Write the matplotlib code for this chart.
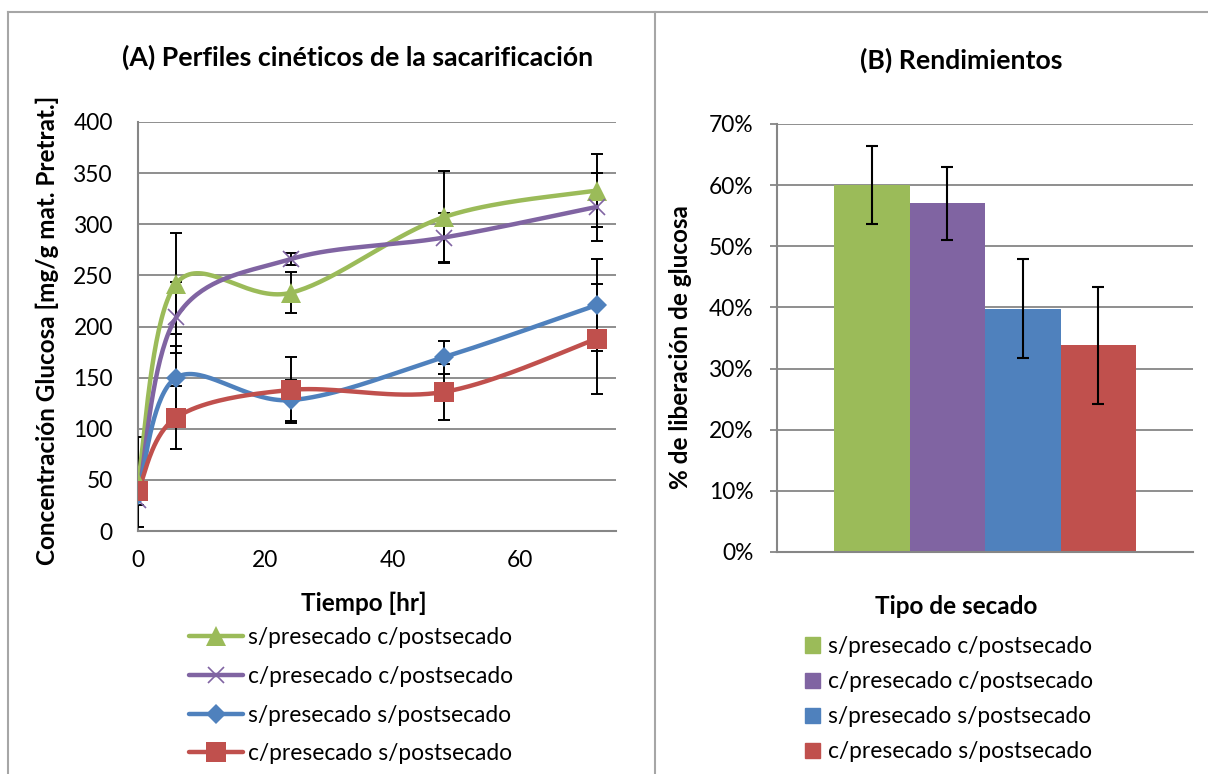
import numpy as np
import matplotlib
matplotlib.use("Agg")
import matplotlib.pyplot as plt
from matplotlib.lines import Line2D
from matplotlib.patches import Rectangle
from matplotlib.ticker import PercentFormatter, MultipleLocator

plt.rcParams['font.family'] = ['Lato', 'DejaVu Sans']

# ---------------- data ----------------
time_hr = [0, 6, 24, 48, 72]
labels = ["s/presecado c/postsecado", "c/presecado c/postsecado",
          "s/presecado s/postsecado", "c/presecado s/postsecado"]
green_vals = [48, 242, 233, 307, 333]
green_err = [44, 49, 20, 45, 36]
purple_vals = [30, 209, 266, 287, 317]
purple_err = [5, 35, 6, 24, 33]
blue_vals = [35, 150, 128, 170, 221]
blue_err = [5, 31, 20, 16, 45]
red_vals = [39, 111, 138, 136, 188]
red_err = [5, 31, 32, 27, 54]

yield_vals = [0.600, 0.570, 0.398, 0.338]
yield_err = [0.064, 0.059, 0.081, 0.096]

colors = ["#9BBB59", "#8064A2", "#4F81BD", "#C0504D"]
markers = ["^", "x", "D", "s"]
msizes = [14, 12, 10, 14]

W, H = 1208, 774
fig = plt.figure(figsize=(W / 100, H / 100), dpi=100)


def fx(px):
    return px / W


def fy(py):
    return 1 - py / H


def smooth(xs, ys, n=40):
    P = np.column_stack([xs, ys]).astype(float)
    out = []
    for i in range(len(P) - 1):
        p0 = P[i - 1] if i > 0 else P[i]
        p1 = P[i]
        p2 = P[i + 1]
        p3 = P[i + 2] if i + 2 < len(P) else P[i + 1]
        c1 = p1 + (p2 - p0) / 6
        c2 = p2 - (p3 - p1) / 6
        t = np.linspace(0, 1, n)[:, None]
        seg = (1 - t) ** 3 * p1 + 3 * (1 - t) ** 2 * t * c1 + 3 * (1 - t) * t ** 2 * c2 + t ** 3 * p2
        out.append(seg if i == 0 else seg[1:])
    return np.vstack(out)


grid_c = "#868686"
fs = 16.4
fsb = 17.5
fst = 19.2

# ---------------- frames ----------------
frame_c = "#A6A6A6"
fig.add_artist(Line2D([fx(8), 1], [fy(12), fy(12)], color=frame_c, lw=1.5, transform=fig.transFigure))
fig.add_artist(Line2D([fx(8), fx(8)], [fy(12), 0], color=frame_c, lw=1.5, transform=fig.transFigure))
fig.add_artist(Line2D([fx(655), fx(655)], [fy(12), 0], color=frame_c, lw=1.5, transform=fig.transFigure))

# ---------------- panel A ----------------
axA = fig.add_axes([fx(138), fy(531), (616 - 138) / W, (531 - 122) / H])
series = [(green_vals, green_err), (purple_vals, purple_err),
          (blue_vals, blue_err), (red_vals, red_err)]
handles = []
for k, (vals, err) in enumerate(series):
    axA.errorbar(time_hr, vals, yerr=err, fmt='none', ecolor='black', elinewidth=1.4,
                 capsize=4, capthick=1.4, zorder=3)
    curve = smooth(time_hr, vals)
    axA.plot(curve[:, 0], curve[:, 1], color=colors[k], lw=3.2, zorder=4 + k * 0.1,
             solid_capstyle='round')
    mew = 1.2 if markers[k] == 'x' else 0
    axA.plot(time_hr, vals, linestyle='none', marker=markers[k], ms=msizes[k],
             color=colors[k], mec=colors[k], mew=mew, zorder=5 + k * 0.1)
    handles.append(Line2D([], [], color=colors[k], lw=3.2, marker=markers[k], ms=msizes[k],
                          mec=colors[k], mew=mew, solid_capstyle='round'))

axA.set_xlim(0, 75)
axA.set_ylim(0, 400)
axA.xaxis.set_major_locator(MultipleLocator(20))
axA.yaxis.set_major_locator(MultipleLocator(50))
axA.grid(axis='y', color=grid_c, lw=1.3)
axA.set_axisbelow(True)
for s in ['top', 'right']:
    axA.spines[s].set_visible(False)
for s in ['left', 'bottom']:
    axA.spines[s].set_color(grid_c)
    axA.spines[s].set_linewidth(1.5)
axA.tick_params(axis='both', length=0, labelsize=fs)
axA.tick_params(axis='y', pad=18)
axA.tick_params(axis='x', pad=14)

fig.text(fx(358), fy(57), "(A) Perfiles cinéticos de la sacarificación", ha='center', va='center',
         fontsize=fst, fontweight='bold')
fig.text(fx(364), fy(603), "Tiempo [hr]", ha='center', va='center', fontsize=fsb, fontweight='bold')
fig.text(fx(47), fy(330), "Concentración Glucosa [mg/g mat. Pretrat.]", ha='center', va='center',
         rotation=90, fontsize=fsb, fontweight='bold')

axA.legend(handles, labels, loc='upper left', bbox_to_anchor=(fx(189), fy(627)),
           bbox_transform=fig.transFigure, frameon=False, fontsize=fs,
           handlelength=2.35, handletextpad=0.25, labelspacing=0.78, borderpad=0,
           borderaxespad=0)

# ---------------- panel B ----------------
axB = fig.add_axes([fx(777), fy(552), (1193 - 777) / W, (552 - 124) / H])
w = 302 / 4 / 416
xpos = [(i - 1.5) * w for i in range(4)]
bars = axB.bar(xpos, yield_vals, width=w, color=colors, zorder=2)
axB.errorbar(xpos, yield_vals, yerr=yield_err, fmt='none', ecolor='black', elinewidth=1.5,
             capsize=4.5, capthick=1.5, zorder=3)
axB.set_xlim(-0.5, 0.5)
axB.set_ylim(0, 0.7)
axB.yaxis.set_major_locator(MultipleLocator(0.1))
axB.yaxis.set_major_formatter(PercentFormatter(1.0, decimals=0))
axB.set_xticks([])
axB.grid(axis='y', color=grid_c, lw=1.3)
axB.set_axisbelow(True)
for s in ['top', 'right']:
    axB.spines[s].set_visible(False)
for s in ['left', 'bottom']:
    axB.spines[s].set_color(grid_c)
    axB.spines[s].set_linewidth(1.5)
axB.tick_params(axis='y', length=5, width=1.3, color=grid_c, labelsize=fs, pad=12)

fig.text(fx(961), fy(60), "(B) Rendimientos", ha='center', va='center', fontsize=fst,
         fontweight='bold')
fig.text(fx(956), fy(607), "Tipo de secado", ha='center', va='center', fontsize=fsb,
         fontweight='bold')
fig.text(fx(681), fy(347), "% de liberación de glucosa", ha='center', va='center', rotation=90,
         fontsize=fsb, fontweight='bold')

bh = [Rectangle((0, 0), 1, 1, color=c) for c in colors]
axB.legend(bh, labels, loc='upper left', bbox_to_anchor=(fx(805), fy(636)),
           bbox_transform=fig.transFigure, frameon=False, fontsize=fs,
           handlelength=0.65, handleheight=0.65, handletextpad=0.35, labelspacing=0.62,
           borderpad=0, borderaxespad=0)

fig.savefig("out.png", dpi=100)
